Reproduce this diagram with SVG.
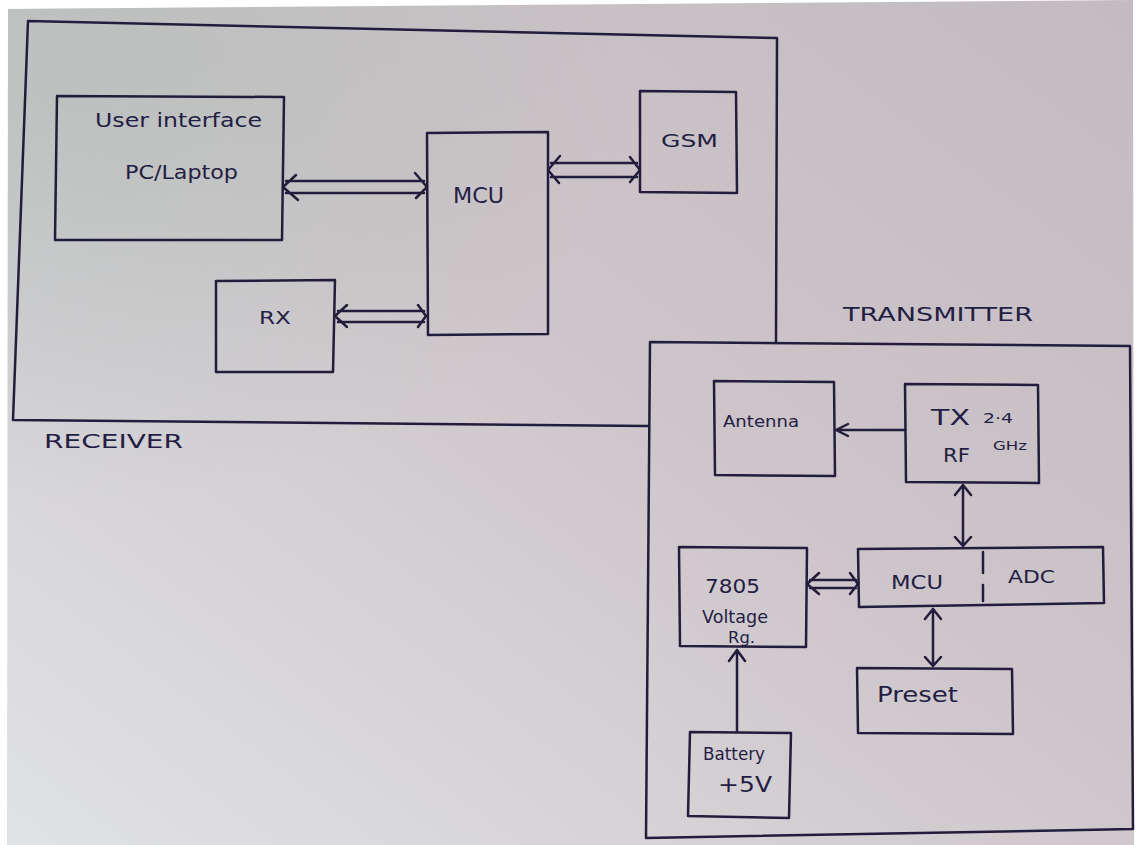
<svg xmlns="http://www.w3.org/2000/svg" width="1136" height="845" viewBox="0 0 1136 845">
<defs>
<linearGradient id="paper" x1="1" y1="0" x2="0" y2="1">
<stop offset="0" stop-color="#c2bbc1"/>
<stop offset="0.45" stop-color="#cdc5c9"/>
<stop offset="1" stop-color="#e0e2e6"/>
</linearGradient>
<radialGradient id="tint" cx="0.05" cy="0.1" r="0.5">
<stop offset="0" stop-color="#a8b8b1" stop-opacity="0.5"/>
<stop offset="1" stop-color="#a8b8b1" stop-opacity="0"/>
</radialGradient>
<style>
.ln{fill:none;stroke:#221d3c;stroke-width:2.5;stroke-linecap:round;stroke-linejoin:round}
.bx{fill:none;stroke:#221d3c;stroke-width:2.5;stroke-linejoin:round}
.t{font-family:"DejaVu Sans","Liberation Sans",sans-serif;fill:#231e45}
</style>
</defs>
<rect width="1136" height="845" fill="#ffffff"/>
<polygon points="8,9 1133,0 1134,845 7,845" fill="url(#paper)"/>
<polygon points="8,9 1133,0 1134,845 7,845" fill="url(#tint)"/>

<g id="receiver-frame">
<polyline class="ln" points="776,343 777,38 28,21 13,420 648,426"/>
<text class="t" x="44" y="448" font-size="20" textLength="139" lengthAdjust="spacingAndGlyphs">RECEIVER</text>
</g>
<g id="transmitter-frame">
<polygon class="bx" points="650,342 1130,346 1133,829 646,838"/>
<text class="t" x="843" y="321" font-size="20" textLength="190" lengthAdjust="spacingAndGlyphs">TRANSMITTER</text>
</g>

<g id="user-interface">
<polygon class="bx" points="57,96 284,97 282,240 55,240"/>
<text class="t" x="95" y="127" font-size="19" textLength="167" lengthAdjust="spacingAndGlyphs">User interface</text>
<text class="t" x="125" y="179" font-size="19" textLength="113" lengthAdjust="spacingAndGlyphs">PC/Laptop</text>
</g>
<g id="mcu-rx">
<polygon class="bx" points="427,133 548,132 548,334 428,335"/>
<text class="t" x="453" y="203" font-size="21" textLength="51" lengthAdjust="spacingAndGlyphs">MCU</text>
</g>
<g id="gsm">
<polygon class="bx" points="640,91 736,92 737,193 640,192"/>
<text class="t" x="661" y="147" font-size="18" textLength="57" lengthAdjust="spacingAndGlyphs">GSM</text>
</g>
<g id="rx">
<polygon class="bx" points="216,281 335,280 333,372 216,372"/>
<text class="t" x="259" y="324" font-size="18" textLength="32" lengthAdjust="spacingAndGlyphs">RX</text>
</g>

<g id="antenna">
<polygon class="bx" points="714,381 834,382 835,476 715,475"/>
<text class="t" x="723" y="427" font-size="16" textLength="76" lengthAdjust="spacingAndGlyphs">Antenna</text>
</g>
<g id="tx">
<polygon class="bx" points="905,384 1038,385 1039,483 906,482"/>
<text class="t" x="931" y="425" font-size="22" textLength="39" lengthAdjust="spacingAndGlyphs">TX</text>
<text class="t" x="983" y="423" font-size="14" textLength="30" lengthAdjust="spacingAndGlyphs">2·4</text>
<text class="t" x="943" y="462" font-size="19" textLength="27" lengthAdjust="spacingAndGlyphs">RF</text>
<text class="t" x="993" y="450" font-size="12" textLength="34" lengthAdjust="spacingAndGlyphs">GHz</text>
</g>
<g id="mcu-tx">
<polygon class="bx" points="858,549 1103,547 1104,603 859,607"/>
<path class="ln" d="M983,552 V573 M983,585 V601"/>
<text class="t" x="891" y="589" font-size="20" textLength="52" lengthAdjust="spacingAndGlyphs">MCU</text>
<text class="t" x="1008" y="583" font-size="18" textLength="47" lengthAdjust="spacingAndGlyphs">ADC</text>
</g>
<g id="regulator">
<polygon class="bx" points="679,547 807,548 806,647 680,646"/>
<text class="t" x="705" y="593" font-size="20" textLength="55" lengthAdjust="spacingAndGlyphs">7805</text>
<text class="t" x="702" y="623" font-size="17" textLength="66" lengthAdjust="spacingAndGlyphs">Voltage</text>
<text class="t" x="728" y="643" font-size="15" textLength="27" lengthAdjust="spacingAndGlyphs">Rg.</text>
</g>
<g id="preset">
<polygon class="bx" points="857,668 1012,669 1013,734 858,733"/>
<text class="t" x="877" y="702" font-size="22" textLength="81" lengthAdjust="spacingAndGlyphs">Preset</text>
</g>
<g id="battery">
<polygon class="bx" points="690,732 791,733 789,818 688,816"/>
<text class="t" x="703" y="760" font-size="17" textLength="62" lengthAdjust="spacingAndGlyphs">Battery</text>
<text class="t" x="718" y="792" font-size="21" textLength="54" lengthAdjust="spacingAndGlyphs">+5V</text>
</g>

<g id="connectors">
<path class="ln" d="M286,181 H424 M286,193 H424 M296,175 L283,187 L298,200 M415,173 L427,187 L416,198"/>
<path class="ln" d="M551,163 H637 M551,177 H637 M560,156 L548,170 L559,183 M630,157 L640,170 L630,182"/>
<path class="ln" d="M338,311 H424 M338,322 H424 M347,305 L335,316 L347,327 M418,305 L426,316 L418,327"/>
<path class="ln" d="M810,580 H856 M810,588 H856 M819,573 L807,584 L819,594 M850,573 L858,584 L850,594"/>
<path class="ln" d="M905,430 H837 M848,424 L836,430 L848,436"/>
<path class="ln" d="M963,485 V545 M955,495 L963,485 L971,495 M955,537 L963,546 L971,537"/>
<path class="ln" d="M933,609 V666 M925,619 L933,609 L941,619 M925,657 L933,666 L941,657"/>
<path class="ln" d="M737,731 V650 M729,661 L737,650 L745,661"/>
</g>
</svg>
